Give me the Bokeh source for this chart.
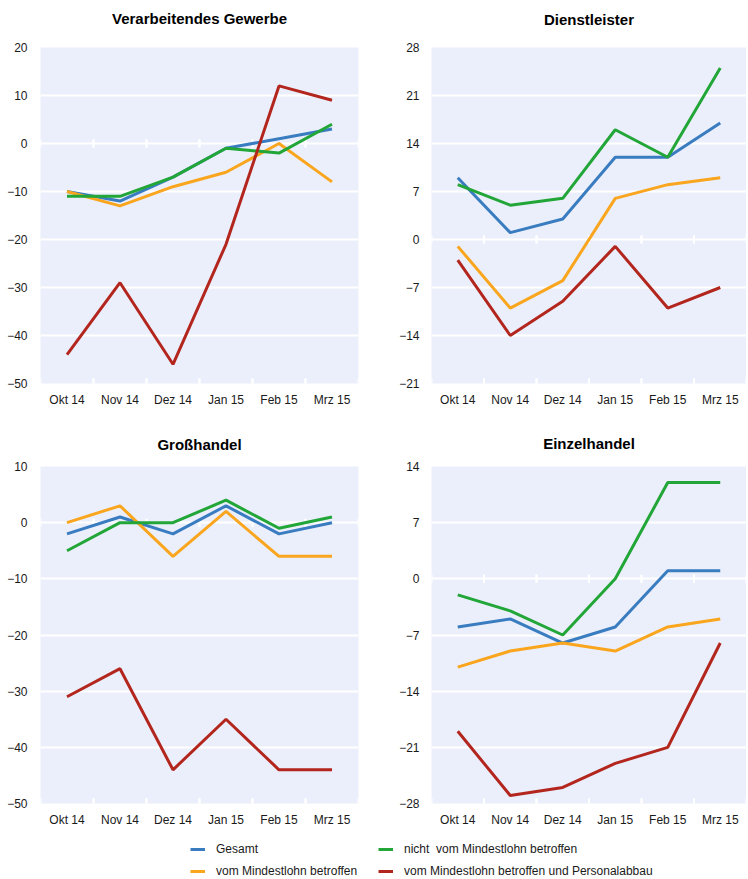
from bokeh.plotting import figure
from bokeh.models import Range1d, FactorRange, FixedTicker, ColumnDataSource, Legend, LegendItem, Title
from bokeh.layouts import column, row
from bokeh.transform import dodge
from bokeh.embed import file_html
from bokeh.resources import INLINE

# ---------------- data ----------------
cats = ["Okt 14", "Nov 14", "Dez 14", "Jan 15", "Feb 15", "Mrz 15"]

series_names = ["Gesamt", "nicht  vom Mindestlohn betroffen",
                "vom Mindestlohn betroffen", "vom Mindestlohn betroffen und Personalabbau"]

verarb_gesamt = [-10, -12, -7, -1, 1, 3]
verarb_nicht = [-11, -11, -7, -1, -2, 4]
verarb_betroffen = [-10, -13, -9, -6, 0, -8]
verarb_abbau = [-44, -29, -46, -21, 12, 9]
verarb_ticks = [-50, -40, -30, -20, -10, 0, 10, 20]

dienst_gesamt = [9, 1, 3, 12, 12, 17]
dienst_nicht = [8, 5, 6, 16, 12, 25]
dienst_betroffen = [-1, -10, -6, 6, 8, 9]
dienst_abbau = [-3, -14, -9, -1, -10, -7]
dienst_ticks = [-21, -14, -7, 0, 7, 14, 21, 28]

gross_gesamt = [-2, 1, -2, 3, -2, 0]
gross_nicht = [-5, 0, 0, 4, -1, 1]
gross_betroffen = [0, 3, -6, 2, -6, -6]
gross_abbau = [-31, -26, -44, -35, -44, -44]
gross_ticks = [-50, -40, -30, -20, -10, 0, 10]

einzel_gesamt = [-6, -5, -8, -6, 1, 1]
einzel_nicht = [-2, -4, -7, 0, 12, 12]
einzel_betroffen = [-11, -9, -8, -9, -6, -5]
einzel_abbau = [-19, -27, -26, -23, -21, -8]
einzel_ticks = [-28, -21, -14, -7, 0, 7, 14]

# ---------------- style ----------------
BLUE = "#3A7CC0"
GREEN = "#22A638"
ORANGE = "#F9A61E"
RED = "#B3261E"
BG = "#EBEFFB"
FONT = "Liberation Sans"
TXT = "#1a1a1a"


def panel(title, gesamt, nicht, betroffen, abbau, ticks, width, height,
          bl, br, bt, bb, gap, ylab_standoff):
    p = figure(x_range=FactorRange(*cats), y_range=Range1d(ticks[0], ticks[-1]),
               width=width, height=height, output_backend="svg", toolbar_location=None,
               min_border_left=bl, min_border_right=br, min_border_top=bt, min_border_bottom=bb,
               background_fill_color=BG, border_fill_color="white", outline_line_color=None)
    # spacer between title and plot area
    p.add_layout(Title(text=" ", text_font_size="1px", standoff=gap), "above")
    p.title.text = title
    p.title.align = "center"
    p.title.text_font = FONT
    p.title.text_font_size = "15px"
    p.title.text_font_style = "bold"
    p.title.text_color = "#000000"
    p.title.standoff = 0

    p.xgrid.grid_line_color = None
    p.ygrid.ticker = FixedTicker(ticks=ticks)
    p.ygrid.grid_line_color = "white"
    p.ygrid.grid_line_width = 2
    p.yaxis.ticker = FixedTicker(ticks=ticks)

    for ax in (p.xaxis[0], p.yaxis[0]):
        ax.axis_line_color = None
        ax.major_tick_line_color = None
        ax.minor_tick_line_color = None
        ax.major_tick_out = 0
        ax.major_tick_in = 0
        ax.major_label_text_font = FONT
        ax.major_label_text_font_size = "12px"
        ax.major_label_text_color = TXT
    p.yaxis.major_label_standoff = ylab_standoff
    p.xaxis.major_label_standoff = 9

    # white boundary tick marks on the zero line and on the bottom edge
    tsrc = ColumnDataSource(dict(cat=cats, zero=[0] * len(cats), low=[ticks[0]] * len(cats)))
    for off in (-0.5, 0.5):
        p.scatter(x=dodge("cat", off, range=p.x_range), y="zero", source=tsrc, marker="dash",
                  angle=1.5708, size=8, line_color="white", line_width=2)
        p.scatter(x=dodge("cat", off, range=p.x_range), y="low", source=tsrc, marker="dash",
                  angle=1.5708, size=10, line_color="white", line_width=2)

    src = ColumnDataSource(dict(cat=cats, g=gesamt, n=nicht, b=betroffen, a=abbau))
    p.line("cat", "g", source=src, line_color=BLUE, line_width=3)
    p.line("cat", "b", source=src, line_color=ORANGE, line_width=3)
    p.line("cat", "n", source=src, line_color=GREEN, line_width=3)
    p.line("cat", "a", source=src, line_color=RED, line_width=3)
    return p


p1 = panel("Verarbeitendes Gewerbe", verarb_gesamt, verarb_nicht, verarb_betroffen, verarb_abbau,
           verarb_ticks, 374, 419, 40, 16, 45, 35, 18, 13)
p2 = panel("Dienstleister", dienst_gesamt, dienst_nicht, dienst_betroffen, dienst_abbau,
           dienst_ticks, 372, 419, 57, 0, 47, 36, 17, 12)
p3 = panel("Großhandel", gross_gesamt, gross_nicht, gross_betroffen, gross_abbau,
           gross_ticks, 374, 414, 40, 16, 46, 30, 11, 13)
p4 = panel("Einzelhandel", einzel_gesamt, einzel_nicht, einzel_betroffen, einzel_abbau,
           einzel_ticks, 372, 414, 57, 0, 47, 30, 12, 12)

# legend figure
pl = figure(width=746, height=45, x_range=Range1d(0, 1), y_range=Range1d(0, 1),
            output_backend="svg", toolbar_location=None, outline_line_color=None,
            min_border_left=0, min_border_right=0, min_border_top=0, min_border_bottom=0)
pl.axis.visible = False
pl.grid.grid_line_color = None
colors = [BLUE, GREEN, ORANGE, RED]
rends = []
for i in range(4):
    rends.append(pl.line(x=[0.5], y=[float("nan")], line_color=colors[i], line_width=3))

legend_cols = [([0, 2], 190), ([1, 3], 378)]
for idxs, xpos in legend_cols:
    items = [LegendItem(label=series_names[i], renderers=[rends[i]]) for i in idxs]
    leg = Legend(items=items, orientation="vertical", location=(xpos, 0),
                 glyph_width=15, glyph_height=14, label_height=14, label_standoff=11,
                 spacing=8, padding=0, margin=0, border_line_color=None, background_fill_alpha=0,
                 label_text_font=FONT, label_text_font_size="12px", label_text_color=TXT)
    pl.add_layout(leg, "center")

layout = column(row(p1, p2), row(p3, p4), pl)
open("out.html", "w").write(file_html(layout, INLINE))
